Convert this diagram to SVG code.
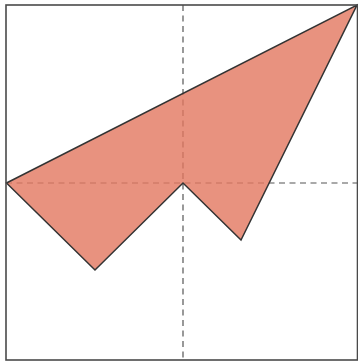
<svg xmlns="http://www.w3.org/2000/svg" width="358" height="362" viewBox="0 0 358 362">
<style>
.guide{stroke:#555;stroke-width:1.2;stroke-dasharray:6 4.5;fill:none}
.frame{fill:none;stroke:#4a4a4a;stroke-width:1.6}
.shape{fill:#E2775F;fill-opacity:0.8;stroke:#333;stroke-width:1.5;stroke-linejoin:miter}
</style>
<rect width="358" height="362" fill="#fff"/>
<g id="connectors">
<line class="guide" x1="183" y1="5" x2="183" y2="360"/>
<line class="guide" x1="6" y1="183" x2="357.5" y2="183"/>
</g>
<g id="shape">
<polygon class="shape" points="6.5,183 357,5 241,240 183,183 95,270"/>
</g>
<g id="frame">
<rect class="frame" x="6" y="5" width="351.5" height="355"/>
</g>
</svg>
